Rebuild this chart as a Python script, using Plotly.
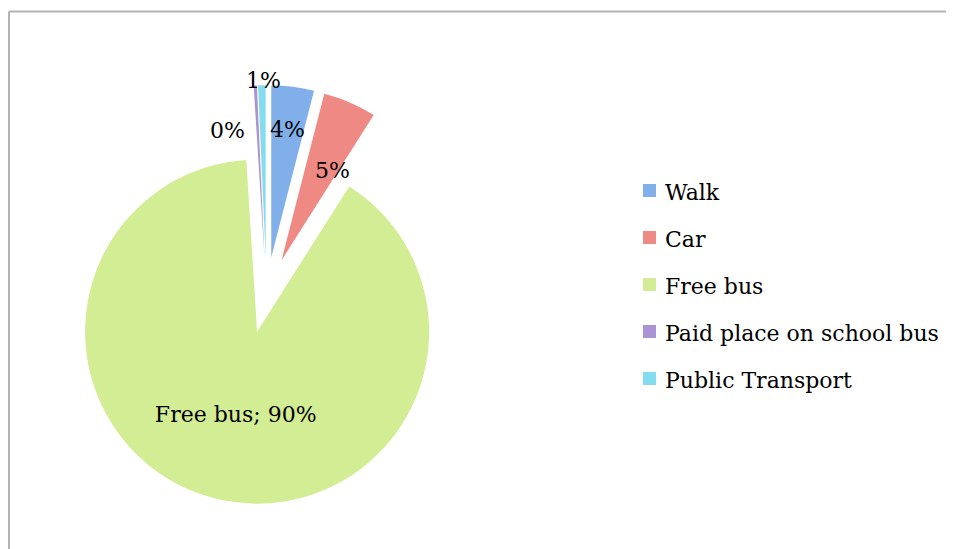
import math
import plotly.graph_objects as go

labels = ["Walk", "Car", "Free bus", "Paid place on school bus", "Public Transport"]
values = [4.0, 5.0, 90.0, 0.3, 0.7]
colors = ["#80afea", "#ee8983", "#d3ed94", "#ab93d4", "#86dcef"]

W, H = 954, 549
OFF = 8          # page offset of the plot div
FONT = "DejaVu Serif"
FS = 22

def px(x):       # page x -> paper
    return (x - OFF) / W

def py(y):       # page y -> paper
    return 1 - (y - OFF) / H

# pie geometry (page pixels)
cx, cy, r, pull = 266.5, 295.0, 172.0, 0.22
half = r * (1 + pull)

text_templates = ["", "", "%{label}; %{percent:.0%}", "", ""]

fig = go.Figure()
fig.add_trace(go.Pie(
    labels=labels, values=values, sort=False, direction="clockwise", rotation=0,
    marker=dict(colors=colors, line=dict(width=0)),
    pull=[pull] * len(values),
    texttemplate=text_templates, textposition="inside",
    insidetextorientation="horizontal",
    textfont=dict(family=FONT, size=FS, color="#000000"),
    showlegend=False, hoverinfo="label+percent",
    domain=dict(x=[px(cx - half), px(cx + half)],
                y=[py(cy + half), py(cy - half)]),
))

# small-slice percentage labels, placed along each slice's mid-angle
label_radius = [0.75, 0.57, None, 0.74, 1.03]
label_xshift = [0, 12, 0, -30, 2]
total = sum(values)
cum = 0.0
for v, k, xs in zip(values, label_radius, label_xshift):
    mid = (cum + v / 2) / total * 2 * math.pi
    cum += v
    if k is None:
        continue
    sx, sy = math.sin(mid), -math.cos(mid)
    ax = cx + pull * r * sx + k * r * sx
    ay = cy + pull * r * sy + k * r * sy
    fig.add_annotation(xref="paper", yref="paper", x=px(ax), y=py(ay),
                       xanchor="center", yanchor="middle", xshift=xs,
                       text=f"{round(100 * v / total)}%", showarrow=False,
                       font=dict(family=FONT, size=FS, color="#000000"))

# custom legend
leg_x, leg_y0, leg_dy, sq = 643, 190.5, 47, 13
for i, (lab, col) in enumerate(zip(labels, colors)):
    y = leg_y0 + i * leg_dy
    fig.add_shape(type="rect", xref="paper", yref="paper",
                  x0=px(leg_x), x1=px(leg_x + sq),
                  y0=py(y + sq / 2), y1=py(y - sq / 2),
                  fillcolor=col, line=dict(width=0))
    fig.add_annotation(xref="paper", yref="paper", x=px(leg_x + 20), y=py(y + 2),
                       xanchor="left", yanchor="middle", text=lab, showarrow=False,
                       font=dict(family=FONT, size=FS, color="#000000"))

# outer frame (left and top edges)
fx, fy = px(OFF + 1), py(11.5)
fig.add_shape(type="line", xref="paper", yref="paper",
              x0=fx, x1=fx, y0=0, y1=fy, line=dict(color="#b3b3b3", width=2))
fig.add_shape(type="line", xref="paper", yref="paper",
              x0=fx, x1=1, y0=fy, y1=fy, line=dict(color="#b3b3b3", width=2))

fig.update_layout(
    width=W, height=H,
    margin=dict(l=0, r=0, t=0, b=0, pad=0, autoexpand=False),
    paper_bgcolor="white", plot_bgcolor="white",
    font=dict(family=FONT, size=FS),
)
fig.write_html("out.html")
